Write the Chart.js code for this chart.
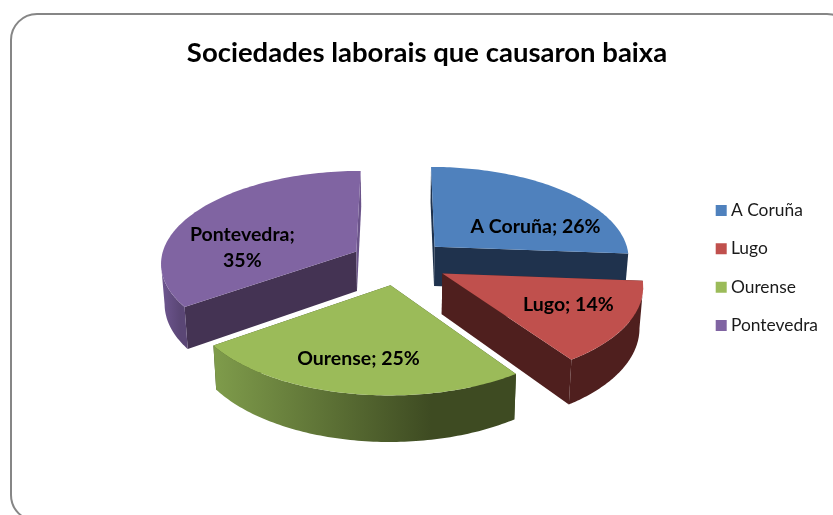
<!DOCTYPE html>
<html>
<head>
<meta charset="utf-8">
<style>
html,body{margin:0;padding:0;background:#fff;overflow:hidden;width:833px;height:515px}
#frame{position:absolute;left:10px;top:13px;width:840px;height:505px;border:2px solid #868686;border-radius:27px;box-sizing:content-box}
#c{position:absolute;left:0;top:0}
</style>
<script src="https://cdn.jsdelivr.net/npm/chart.js@4"></script>
</head>
<body>
<div id="frame"></div>
<canvas id="c" width="854" height="515"></canvas>
<script>
const categories = ["A Coruña", "Lugo", "Ourense", "Pontevedra"];
const shares = [26.2, 14.2, 24.8, 34.8];
const chartTitle = "Sociedades laborais que causaron baixa";
const topColors = ["#4F81BD", "#C0504D", "#9BBB59", "#8064A2"];
const startCutColors = ["#1F324D", "#4F1F1E", "#3E4C22", "#443353"];
const endCutColors = ["#1F324D", "#4F1F1E", "#3E4C22", "#6A5389"];
const wallLeftColors = ["#1F324D", "#4F1F1E", "#7F9C4B", "#6F5791"];
const wallRightColors = ["#1F324D", "#4F1F1E", "#3E4B22", "#5A4675"];
const labelLines = [[0], [0], [0], [1]];

// view of the tilted pie
const view = {cx: 399.3, cy: 262, ax: 196, ay: 92, persp: 0.113, depth: 40, shrink: 0.985, explode: 0.25};
const labelShift = [[101, -20], [126, 31], [-32, 73], [-114, -4]];
const paintOrder = [0, 3, 1, 2];

function project(px, py, bottom) {
  const w = 1 - view.persp * py;
  const k = bottom ? view.shrink : 1;
  return {
    x: view.cx + k * view.ax * px / w,
    y: view.cy + view.ay * py / w + (bottom ? view.depth / w : 0)
  };
}

const pie3d = {
  id: 'pie3d',
  beforeDatasetDraw(chart) {
    const ctx = chart.ctx;
    const arcs = chart.getDatasetMeta(0).data;
    paintOrder.forEach(i => {
      const a = arcs[i].getProps(['startAngle', 'endAngle']);
      const t0 = a.startAngle + Math.PI / 2;
      const t1 = a.endAngle + Math.PI / 2;
      const mid = (t0 + t1) / 2;
      const ox = view.explode * Math.sin(mid);
      const oy = -view.explode * Math.cos(mid);
      const rim = (t, b) => project(ox + Math.sin(t), oy - Math.cos(t), b);
      const apex = b => project(ox, oy, b);
      const poly = pts => {
        ctx.beginPath();
        pts.forEach((p, n) => n ? ctx.lineTo(p.x, p.y) : ctx.moveTo(p.x, p.y));
        ctx.closePath();
      };
      // cut faces
      [[t0, startCutColors[i]], [t1, endCutColors[i]]].forEach(([t, col]) => {
        ctx.fillStyle = col;
        poly([apex(false), rim(t, false), rim(t, true), apex(true)]);
        ctx.fill();
      });
      // front part of the outer wall, up to the silhouette points
      const steps = 90;
      const from = Math.max(t0, Math.PI / 2 + 0.14);
      const to = Math.min(t1, Math.PI * 1.5 - 0.14);
      if (to > from) {
        const up = [], down = [];
        for (let s = 0; s <= steps; s++) {
          const t = from + (to - from) * s / steps;
          up.push(rim(t, false));
          down.unshift(rim(t, true));
        }
        const all = up.concat(down);
        const xs = all.map(p => p.x);
        const g = ctx.createLinearGradient(Math.min(...xs), 0, Math.max(...xs), 0);
        g.addColorStop(0, wallLeftColors[i]);
        g.addColorStop(0.72, wallRightColors[i]);
        g.addColorStop(1, wallRightColors[i]);
        poly(all);
        ctx.fillStyle = g;
        ctx.fill();
      }
      // top face
      const top = [apex(false)];
      for (let s = 0; s <= steps; s++) top.push(rim(t0 + (t1 - t0) * s / steps, false));
      poly(top);
      ctx.fillStyle = topColors[i];
      ctx.fill();
    });
    // value labels
    ctx.save();
    ctx.fillStyle = '#000';
    ctx.font = 'bold 19.5px Lato';
    ctx.textAlign = 'center';
    ctx.textBaseline = 'middle';
    arcs.forEach((arc, i) => {
      const a = arc.getProps(['startAngle', 'endAngle']);
      const mid = (a.startAngle + a.endAngle) / 2 + Math.PI / 2;
      const p = project(view.explode * Math.sin(mid), -view.explode * Math.cos(mid), false);
      const x = p.x + labelShift[i][0];
      const y = p.y + labelShift[i][1];
      const pct = Math.round(shares[i]) + '%';
      if (labelLines[i][0]) {
        ctx.fillText(categories[i] + ';', x, y - 13);
        ctx.fillText(pct, x, y + 13);
      } else {
        ctx.fillText(categories[i] + '; ' + pct, x, y);
      }
    });
    ctx.restore();
    return false;
  }
};

new Chart(document.getElementById('c'), {
  type: 'pie',
  data: {
    labels: categories,
    datasets: [{data: shares, backgroundColor: topColors, borderWidth: 0}]
  },
  plugins: [pie3d],
  options: {
    responsive: false,
    animation: false,
    layout: {padding: {top: 21, right: 26, bottom: 0, left: 26}},
    plugins: {
      tooltip: {enabled: false},
      title: {
        display: true,
        text: chartTitle,
        color: '#000',
        font: {family: 'Lato', size: 27.5, weight: 'bold'},
        padding: {top: 16, bottom: 2}
      },
      legend: {
        position: 'right',
        labels: {
          color: '#1a1a1a',
          font: {family: 'Lato', size: 17.4},
          usePointStyle: true,
          pointStyle: 'rect',
          boxWidth: 2,
          boxHeight: 11,
          padding: 21
        }
      }
    }
  }
});
</script>
</body>
</html>
